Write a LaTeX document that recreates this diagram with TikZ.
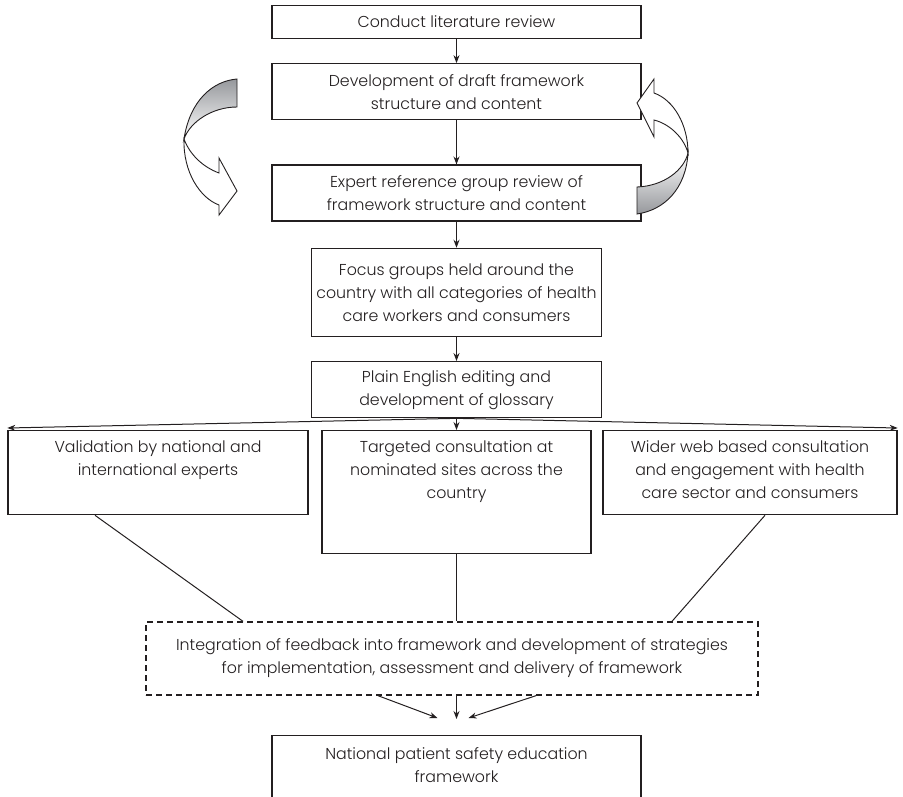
\documentclass[tikz,border=0pt]{standalone}
\usepackage{fontspec}
\setmainfont{Poppins Light}
\usetikzlibrary{arrows.meta,positioning}
\definecolor{ink}{RGB}{35,31,32}
\definecolor{ribbongray}{RGB}{150,152,156}
\newcommand{\stagefont}{\fontsize{15.8}{23}\selectfont}
\tikzset{
  stagebox/.style 2 args={draw=ink, line width=1.3pt, minimum width=#1, minimum height=#2, inner sep=0pt},
  stagetext/.style={text=ink, align=center, inner sep=0pt, font=\stagefont},
  flow/.style={-{Stealth[length=8pt,width=6pt]}, line width=1pt, draw=ink},
  link/.style={line width=1pt, draw=ink},
  ribbon/.style={draw=ink, line width=0.9pt}
}

\begin{document}
\begin{tikzpicture}[x=1pt, y=-1pt]
        \useasboundingbox (0,0) rectangle (903,796);
        \clip (0,0) rectangle (903,796);
        % central column
        \node[stagebox={369pt}{33pt}, stagetext] (lit) at (456.5,22) {Conduct literature review};
        \node[stagebox={369pt}{56pt}, stagetext, below=24pt of lit] (draft) {Development of draft framework\\structure and content};
        \node[stagebox={369pt}{56pt}, stagetext, below=44pt of draft] (expert) {Expert reference group review of\\framework structure and content};
        \node[stagebox={290pt}{88pt}, stagetext, below=26pt of expert] (focus) {Focus groups held around the\\country with all categories of health\\care workers and consumers};
        \node[stagebox={290pt}{56pt}, stagetext, below=24pt of focus] (plain) {Plain English editing and\\development of glossary};
        % three parallel routes
        \node[stagebox={300pt}{84pt}, anchor=north] (valid) at (158,430) {};
        \node[stagetext, anchor=north] (valid-t) at ([yshift=-10pt]valid.north) {Validation by national and\\international experts};
        \node[stagebox={269pt}{123pt}, anchor=north] (target) at (456.5,430) {};
        \node[stagetext, anchor=north] (target-t) at ([yshift=-10pt]target.north) {Targeted consultation at\\nominated sites across the\\country};
        \node[stagebox={294pt}{84pt}, anchor=north] (wider) at (750,430) {};
        \node[stagetext, anchor=north] (wider-t) at ([yshift=-10pt]wider.north) {Wider web based consultation\\and engagement with health\\care sector and consumers};
        % merge and result
        \node[stagebox={612pt}{73pt}, stagetext, dash pattern=on 6pt off 4pt] (integ) at (452,658.5) {Integration of feedback into framework and development of strategies\\for implementation, assessment and delivery of framework};
        \node[stagebox={369pt}{90pt}, anchor=north] (nat) at (456.5,735) {};
        \node[stagetext, anchor=north] (nat-t) at ([yshift=-12pt]nat.north) {National patient safety education\\framework};
        % arrows
        \draw[flow] (lit) -- (draft);
        \draw[flow] (draft) -- (expert);
        \draw[flow] (expert) -- (focus);
        \draw[flow] (focus) -- (plain);
        \draw[flow] (plain.south) -- ([yshift=2pt]valid.north west);
        \draw[flow] (plain) -- (target);
        \draw[flow] (plain.south) -- ([yshift=2pt]wider.north east);
        \draw[link] ([xshift=-63pt]valid.south) -- ([xshift=-209pt]integ.north);
        \draw[link] (target.south) -- (target.south |- integ.north);
        \draw[link] ([xshift=15pt]wider.south) -- ([xshift=220pt]integ.north);
        \coordinate (natl) at ([xshift=-19pt,yshift=17pt]nat.north);
        \coordinate (natm) at ([yshift=16pt]nat.north);
        \coordinate (natr) at ([xshift=12pt,yshift=17pt]nat.north);
        \draw[flow] ([xshift=-74pt]integ.south) -- (natl);
        \draw[flow] (integ.south -| natm) -- (natm);
        \draw[flow] ([xshift=84pt]integ.south) -- (natr);
        % review loop ribbons
        \shade[ribbon, top color=ribbongray, bottom color=white]
          (237,79) .. controls (213,81) and (190,100) .. (184,139)
          .. controls (190,122) and (212,107) .. (237,107) -- cycle;
        \filldraw[ribbon, fill=white]
          (184,139) .. controls (183,172) and (200,198) .. (219,205)
          -- (219,215) -- (237,191) -- (219,158) -- (219,173)
          .. controls (203,167) and (190,155) .. (184,139) -- cycle;
        \shade[ribbon, top color=white, bottom color=ribbongray]
          (637,214) .. controls (665,210) and (686,188) .. (688,153)
          .. controls (684,170) and (664,186) .. (637,187) -- cycle;
        \filldraw[ribbon, fill=white]
          (688,153) .. controls (688,125) and (674,100) .. (654,93)
          -- (654,79) -- (637,103) -- (654,137) -- (654,120)
          .. controls (670,124) and (684,138) .. (688,153) -- cycle;
    \end{tikzpicture}
\end{document}
